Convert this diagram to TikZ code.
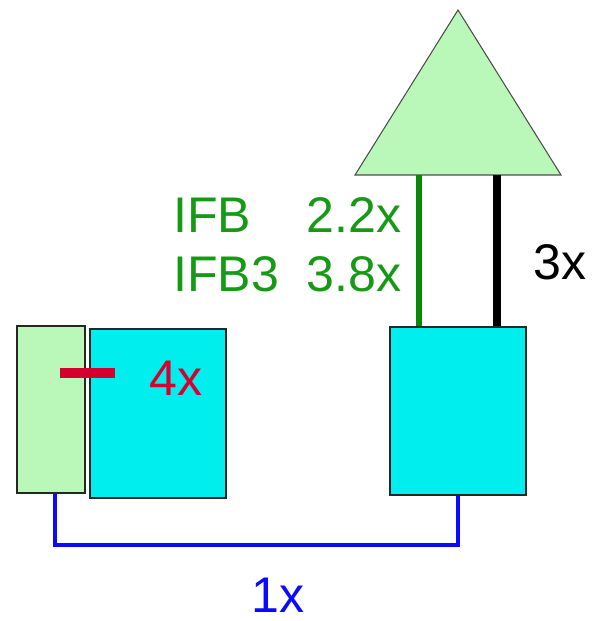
\documentclass[tikz,border=0pt]{standalone}
\usepackage{fontspec}
\setmainfont{Liberation Sans}
\usepackage{tikz}
\usetikzlibrary{arrows.meta,calc,positioning}
\definecolor{palegrn}{HTML}{B9F8B9}
\definecolor{cyanbox}{HTML}{00EEEE}
\definecolor{txtgrn}{HTML}{169A16}
\definecolor{feedgrn}{HTML}{088A08}
\definecolor{crim}{HTML}{D6002E}
\definecolor{wireblue}{HTML}{0A0AFF}

\begin{document}
\begin{tikzpicture}[font=\fontsize{28.5}{34}\selectfont,
    box/.style={draw=black!85,line width=1.1pt,inner sep=0pt,fill=cyanbox},
    lbl/.style={inner sep=0pt}]
  \useasboundingbox (0,0) rectangle (11.84,12.42);
  % antenna
  \coordinate (antL) at (7.10,8.92);
  \coordinate (antR) at (11.22,8.92);
  \coordinate (antTop) at (9.16,12.22);
  \draw[fill=palegrn,draw=black!70,line width=0.6pt] (antL) -- (antTop) -- (antR) -- cycle;
  % boxes
  \node[box,fill=palegrn,minimum width=1.36cm,minimum height=3.34cm] (hyb) at (1.02,4.23) {};
  \node[box,minimum width=2.72cm,minimum height=3.38cm] (ref) at (3.16,4.15) {};
  \node[box,minimum width=2.72cm,minimum height=3.36cm] (rx) at (9.16,4.20) {};
  % feeds
  \coordinate (feedA) at (8.38,8.92);
  \coordinate (feedB) at (9.94,8.92);
  \draw[feedgrn,line width=3.4pt] (feedA) -- (feedA |- rx.north);
  \draw[black,line width=4pt] (feedB) -- (feedB |- rx.north);
  % cable
  \draw[wireblue,line width=2.3pt] ([xshift=0.08cm]hyb.south) |- (0,1.52 -| rx.south) -- (rx.south);
  % marker
  \draw[crim,line width=5.7pt] (1.20,4.96) -- (2.30,4.96);
  % labels
  \node[lbl,txtgrn,anchor=base west] (ifb) at (3.46,7.76) {IFB};
  \node[lbl,txtgrn,anchor=base east] (ifbv) at (8.04,7.76) {2.2x};
  \node[lbl,txtgrn,anchor=base west] (ifbt) at (3.46,6.58) {IFB3};
  \node[lbl,txtgrn,anchor=base east] (ifbtv) at (8.04,6.58) {3.8x};
  \node[lbl,anchor=west] (blk) at (10.66,7.18) {3x};
  \node[lbl,crim,anchor=west] (red) at (2.98,4.86) {4x};
  \node[lbl,wireblue,anchor=base] (cab) at (5.56,0.18) {1x};
\end{tikzpicture}
\end{document}
